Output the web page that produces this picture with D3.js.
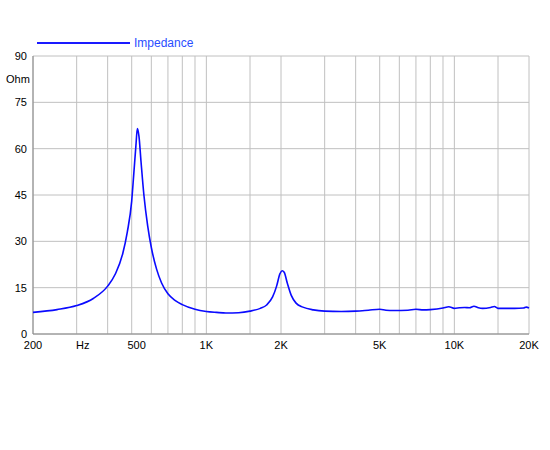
<!DOCTYPE html>
<html><head><meta charset="utf-8">
<script src="https://cdn.jsdelivr.net/npm/d3@7"></script>
<style>body{margin:0;background:#fff}text{font-family:"Liberation Sans",Arial,sans-serif;font-size:11px}</style>
</head><body><svg width="550" height="450"></svg>
<script>
const freq = [200,250,300,350,400,430,460,480,500,510,520,527,535,545,560,580,600,630,660,700,750,800,900,1000,1100,1200,1350,1500,1650,1750,1850,1920,1980,2020,2060,2120,2200,2300,2450,2700,3000,3500,4000,4500,5000,5300,5700,6500,7000,7500,8000,9000,9500,10000,10500,11000,11500,12000,12500,13000,14000,14500,15000,16000,17500,19000,19500,20000];
const ohm  = [7,7.9,9.2,11.5,15.5,19.5,26,33,43,52,61,66.5,64,56,45,35,28,21,16.5,13,10.8,9.5,8,7.3,7,6.8,6.9,7.4,8.3,9.4,12,15.5,19.5,20.5,20,16.5,12.5,10,8.7,7.8,7.4,7.3,7.4,7.7,8,7.7,7.6,7.7,8,7.8,7.9,8.4,8.8,8.3,8.5,8.6,8.5,9,8.5,8.3,8.6,8.9,8.3,8.3,8.3,8.4,8.7,8.4];
const yTicks = [0,15,30,45,60,75,90];
const xTicks = [200,300,500,1000,2000,5000,10000,20000];
const xTickLabels = ["200","Hz","500","1K","2K","5K","10K","20K"];
const xGrid = [200,300,400,500,600,700,800,900,1000,1500,2000,3000,4000,5000,6000,7000,8000,9000,10000,15000,20000];

const svg = d3.select("svg");
const x = d3.scaleLog().domain([200,20000]).range([33,529]);
const y = d3.scaleLinear().domain([0,90]).range([334,56]);

svg.append("g").selectAll("line").data(xGrid).join("line")
  .attr("x1",d=>x(d)).attr("x2",d=>x(d)).attr("y1",56).attr("y2",334)
  .attr("stroke","#c0c0c0").attr("stroke-width",1);
svg.append("g").selectAll("line").data(yTicks).join("line")
  .attr("x1",33).attr("x2",529).attr("y1",d=>y(d)).attr("y2",d=>y(d))
  .attr("stroke","#c0c0c0").attr("stroke-width",1);
svg.append("line").attr("x1",33).attr("x2",33).attr("y1",56).attr("y2",334).attr("stroke","#888");
svg.append("line").attr("x1",33).attr("x2",529).attr("y1",334).attr("y2",334).attr("stroke","#888");

svg.append("g").selectAll("text").data(yTicks).join("text")
  .attr("x",27).attr("y",d=>y(d)+4).attr("text-anchor","end").text(d=>d);
svg.append("text").attr("x",6).attr("y",83).text("Ohm");
svg.append("g").selectAll("text").data(xTicks).join("text")
  .attr("x",d=>x(d)+(d===500?5:d===300?6:0)).attr("y",349).attr("text-anchor","middle")
  .text((d,i)=>xTickLabels[i]);

svg.append("line").attr("x1",37).attr("x2",130).attr("y1",43).attr("y2",43)
  .attr("stroke","#1a1aff").attr("stroke-width",2);
svg.append("text").attr("x",134).attr("y",47).attr("fill","#2a4dff").style("font-size","12px").text("Impedance");

const line = d3.line().x((d,i)=>x(freq[i])).y(d=>y(d)).curve(d3.curveMonotoneX);
svg.append("path").datum(ohm).attr("d",line).attr("fill","none")
  .attr("stroke","#0a0aff").attr("stroke-width",1.6);
</script></body></html>
